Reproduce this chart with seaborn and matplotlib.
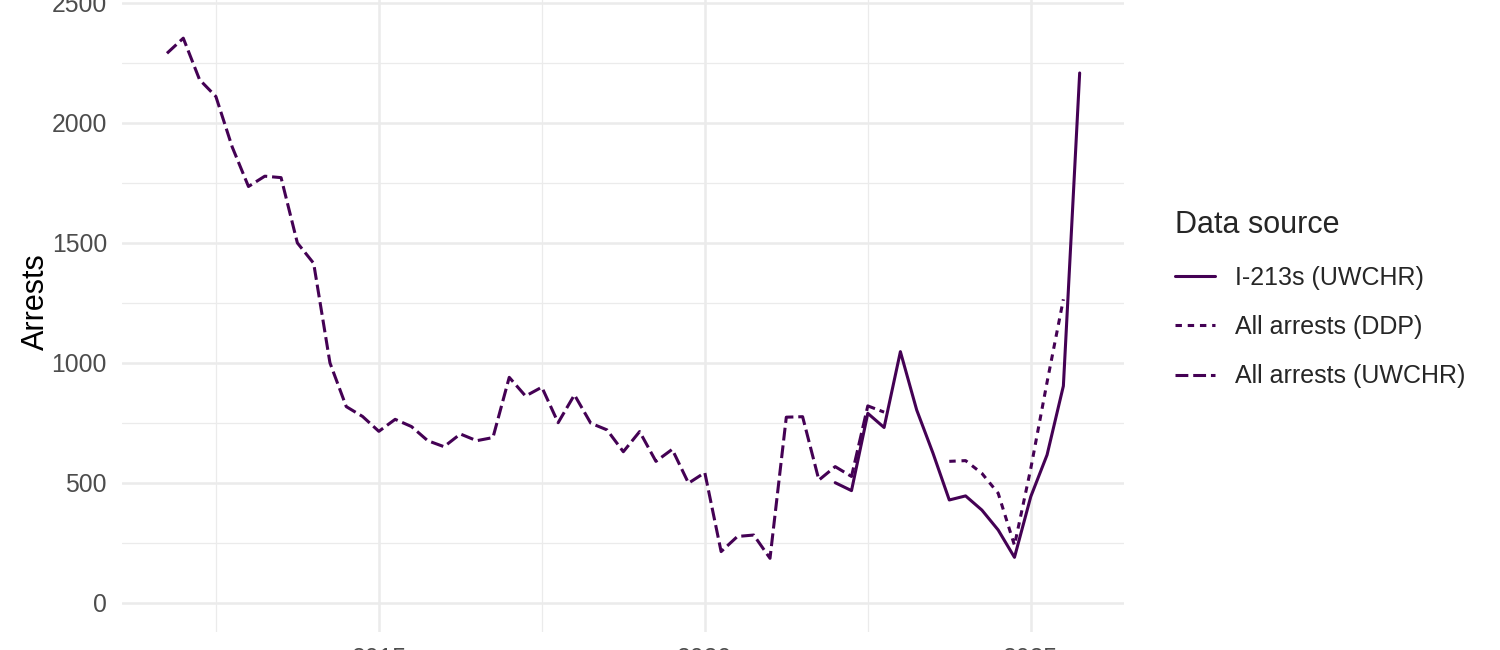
import matplotlib
matplotlib.use("Agg")
import matplotlib.pyplot as plt
from matplotlib.ticker import FixedLocator
import pandas as pd
import seaborn as sns

# quarterly arrest counts
uwchr_all_start, uwchr_all_end = "2011Q4", "2022Q4"
uwchr_all = [2290, 2353, 2180, 2110, 1900, 1735, 1778, 1772, 1500, 1415,
             1000, 818, 777, 715, 765, 735, 676, 651, 704, 676,
             689, 940, 862, 899, 751, 867, 749, 721, 630, 714,
             590, 640, 499, 543, 214, 277, 283, 186, 774, 776,
             512, 568, 527, 821, 795]

i213_start, i213_end = "2022Q1", "2025Q4"
i213 = [501, 468, 790, 731, 1047, 804, 624, 429, 446, 387, 304, 190,
        443, 617, 904, 2208]

ddp_start, ddp_end = "2023Q4", "2025Q3"
ddp = [590, 593, 540, 457, 240, 560, 920, 1265]

sources = ["I-213s (UWCHR)", "All arrests (DDP)", "All arrests (UWCHR)"]


def quarters(start, end):
    p = pd.period_range(start, end, freq="Q")
    return p.year + (p.quarter - 1) / 4


frames = []
for name, start, end, vals in [(sources[0], i213_start, i213_end, i213),
                               (sources[1], ddp_start, ddp_end, ddp),
                               (sources[2], uwchr_all_start, uwchr_all_end, uwchr_all)]:
    frames.append(pd.DataFrame({"year": quarters(start, end), "arrests": vals,
                                "source": name}))
df = pd.concat(frames, ignore_index=True)

sns.set_style("white")
plt.rcParams["font.family"] = ["Liberation Sans", "DejaVu Sans"]

purple = "#440154"
lw = 2.2
fig = plt.figure(figsize=(15, 6.5), dpi=100)
ax = fig.add_axes([122 / 1500, 18 / 650, 1002 / 1500, 704 / 650])

sns.lineplot(data=df, x="year", y="arrests", style="source", style_order=sources,
             dashes={sources[0]: "", sources[1]: (2.1, 1.9), sources[2]: (4.2, 1.6)},
             color=purple, linewidth=lw, ax=ax, estimator=None, sort=True)

ax.set_xlim(2011.06, 2026.43)
ax.set_ylim(-121, 2812)
ax.xaxis.set_major_locator(FixedLocator([2015, 2020, 2025]))
ax.xaxis.set_minor_locator(FixedLocator([2012.5, 2017.5, 2022.5]))
ax.yaxis.set_major_locator(FixedLocator([0, 500, 1000, 1500, 2000, 2500]))
ax.yaxis.set_minor_locator(FixedLocator([250, 750, 1250, 1750, 2250, 2750]))
ax.set_xticklabels(["2015", "2020", "2025"])
ax.set_yticklabels(["0", "500", "1000", "1500", "2000", "2500"])

ax.grid(which="major", color="#EBEBEB", linewidth=1.8)
ax.grid(which="minor", color="#EBEBEB", linewidth=0.9)
ax.set_axisbelow(True)
for s in ax.spines.values():
    s.set_visible(False)
ax.tick_params(which="both", length=0, labelsize=17.8, labelcolor="#4D4D4D")
ax.tick_params(axis="y", pad=10.8)
ax.tick_params(axis="x", pad=10.5)

ax.set_xlabel("")
ax.set_ylabel("Arrests", fontsize=22, color="black")
ax.yaxis.set_label_coords(-0.071, 0.469)

old = ax.get_legend()
handles = old.legend_handles
labels = [t.get_text() for t in old.get_texts()]
old.remove()
for h in handles:
    h.set_color(purple)
    h.set_linewidth(lw)
leg = fig.legend(handles, labels, title="Data source", loc="upper left",
                 bbox_to_anchor=(1175 / 1500, 1 - 210 / 650), frameon=False,
                 borderpad=0, borderaxespad=0, fontsize=18, title_fontsize=22,
                 handlelength=1.6, handletextpad=0.8, labelspacing=1.02,
                 alignment="left")

fig.savefig("out.png", dpi=100)
